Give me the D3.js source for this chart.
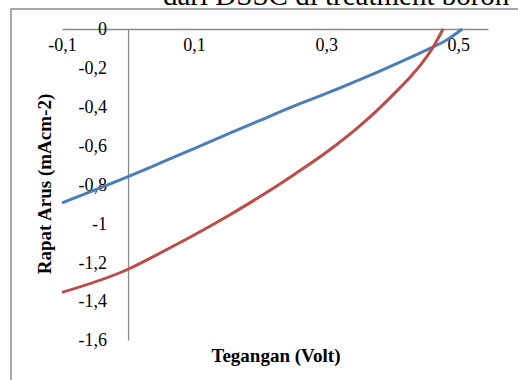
<!DOCTYPE html>
<html>
<head>
<meta charset="utf-8">
<script src="https://cdn.jsdelivr.net/npm/d3@7"></script>
<style>
  html, body { margin: 0; padding: 0; background: #fff; }
  svg { display: block; }
  text { font-family: "Liberation Serif", "Times New Roman", serif; fill: #000; }
</style>
</head>
<body>
<svg id="chart" width="518" height="380"></svg>
<script>
// J-V curves of two DSSC samples (voltage in V, current density in mA/cm^2)
const voltageBlue = [-0.1, 0, 0.05, 0.1, 0.155, 0.2, 0.25, 0.306, 0.35, 0.4, 0.458, 0.48, 0.506];
const currentBlue = [-0.895, -0.76, -0.688, -0.615, -0.535, -0.47, -0.398, -0.324, -0.262, -0.188, -0.098, -0.062, 0];

const voltageRed = [-0.1, 0, 0.05, 0.1, 0.155, 0.2, 0.25, 0.306, 0.35, 0.382, 0.41, 0.427, 0.445, 0.462, 0.477];
const currentRed = [-1.355, -1.236, -1.15, -1.06, -0.954, -0.862, -0.752, -0.62, -0.501, -0.403, -0.308, -0.248, -0.176, -0.093, 0];

const xTickValues = [-0.1, 0.1, 0.3, 0.5];
const yTickValues = [0, -0.2, -0.4, -0.6, -0.8, -1, -1.2, -1.4, -1.6];

const xTitle = "Tegangan (Volt)";
const yTitle = "Rapat Arus  (mAcm-2)";
const captionTail = "dari DSSC di treatment boron";

const svg = d3.select("#chart");

// decimal comma, plain hyphen minus
const locale = d3.formatLocale({ decimal: ",", thousands: ".", grouping: [3], currency: ["", ""], minus: "-" });
const fmt = locale.format("~g");

const x = d3.scaleLinear().domain([-0.1, 0.545]).range([62, 488]);
const y = d3.scaleLinear().domain([0, -1.6]).range([29, 340]);

// caption line above the figure (partly outside the page)
svg.append("text")
  .attr("x", 163).attr("y", 5)
  .style("font-size", "29px")
  .text(captionTail);

// chart frame
svg.append("path")
  .attr("d", "M11,381 L11,9 L519,9")
  .attr("fill", "none")
  .attr("stroke", "#8c8c8c")
  .attr("stroke-width", 1.5);

// horizontal axis, drawn through J = 0
const xAxis = d3.axisBottom(x)
  .tickValues(xTickValues)
  .tickSize(0)
  .tickSizeOuter(0)
  .tickPadding(9)
  .tickFormat(fmt);

const gx = svg.append("g")
  .attr("transform", `translate(0,${y(0)})`)
  .call(xAxis);
gx.select(".domain").attr("stroke", "#8a8a8a").attr("stroke-width", 1.3);
gx.selectAll("text")
  .attr("font-family", null)
  .style("font-size", "18px");

// vertical axis, drawn through V = 0
const yAxis = d3.axisLeft(y)
  .tickValues(yTickValues)
  .tickSize(0)
  .tickSizeOuter(0)
  .tickPadding(21)
  .tickFormat(fmt);

const gy = svg.append("g")
  .attr("transform", `translate(${x(0)},0)`)
  .call(yAxis);
gy.select(".domain").attr("stroke", "#8a8a8a").attr("stroke-width", 1.3);
gy.selectAll("text")
  .attr("font-family", null)
  .style("font-size", "18px");

// curves
const line = d3.line()
  .x(d => x(d[0]))
  .y(d => y(d[1]))
  .curve(d3.curveMonotoneX);

const seriesBlue = d3.zip(voltageBlue, currentBlue);
const seriesRed = d3.zip(voltageRed, currentRed);

svg.append("path")
  .datum(seriesBlue)
  .attr("d", line)
  .attr("fill", "none")
  .attr("stroke", "#4a7ebb")
  .attr("stroke-width", 3);

svg.append("path")
  .datum(seriesRed)
  .attr("d", line)
  .attr("fill", "none")
  .attr("stroke", "#be4b48")
  .attr("stroke-width", 3);

// axis titles
svg.append("text")
  .attr("x", 276).attr("y", 362)
  .attr("text-anchor", "middle")
  .style("font-size", "19px")
  .style("font-weight", "bold")
  .text(xTitle);

svg.append("text")
  .attr("transform", "translate(51,184) rotate(-90)")
  .attr("text-anchor", "middle")
  .style("font-size", "19px")
  .style("font-weight", "bold")
  .text(yTitle);
</script>
</body>
</html>
